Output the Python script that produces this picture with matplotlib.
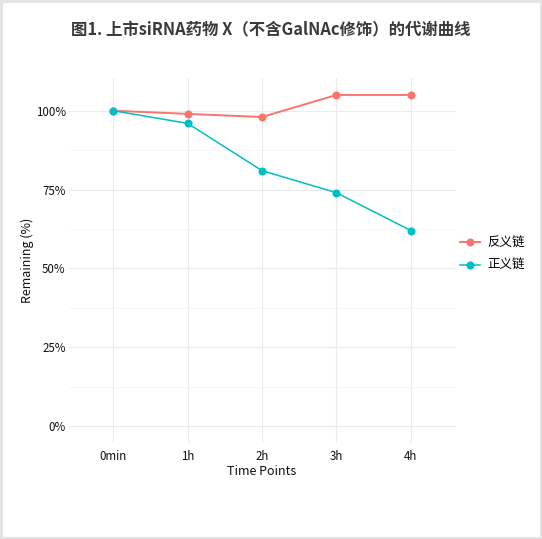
import matplotlib
matplotlib.use("Agg")
import matplotlib.pyplot as plt
from matplotlib.patches import Rectangle
from matplotlib.lines import Line2D
from matplotlib.ticker import FixedLocator

plt.rcParams['font.family'] = ['Noto Sans CJK SC', 'DejaVu Sans']

time_points = ["0min", "1h", "2h", "3h", "4h"]
antisense = [100, 99, 98, 105, 105]
sense = [100, 96, 81, 74, 62]
series_names = ["反义链", "正义链"]
colors = ["#F8766D", "#00BFC4"]
y_ticks = [0, 25, 50, 75, 100]
y_labels = ["0%", "25%", "50%", "75%", "100%"]
title = "图1. 上市siRNA药物 X（不含GalNAc修饰）的代谢曲线"

W, H = 542, 539
fig = plt.figure(figsize=(W / 100, H / 100), dpi=100)
fig.patch.set_facecolor("white")

# outer border
fig.patches.append(Rectangle((1 / W, 1 / H), 1 - 2 / W, 1 - 2 / H, transform=fig.transFigure,
                             fill=False, edgecolor="#e3e3e3", linewidth=2.2, zorder=10))

left, right = 68.5 / W, 455.5 / W
top, bottom = 1 - 78.4 / H, 1 - 442.6 / H
ax = fig.add_axes([left, bottom, right - left, top - bottom])
ax.set_facecolor("white")
for s in ax.spines.values():
    s.set_visible(False)

x = list(range(len(time_points)))
widths = [1.4, 1.1]
for vals, c, name, lw in zip([antisense, sense], colors, series_names, widths):
    ax.plot(x, vals, color=c, linewidth=lw, marker="o", markersize=5.8,
            markeredgewidth=0, label=name, zorder=3)

ax.set_xlim(-0.6, len(time_points) - 1 + 0.6)
ax.set_ylim(-5.25, 110.25)
ax.set_xticks(x)
ax.set_xticklabels(time_points)
ax.set_yticks(y_ticks)
ax.set_yticklabels(y_labels)
ax.yaxis.set_minor_locator(FixedLocator([12.5, 37.5, 62.5, 87.5]))
ax.grid(True, which="major", color="#ebebeb", linewidth=0.8, zorder=0)
ax.grid(True, which="minor", axis="y", color="#f3f3f3", linewidth=0.5, zorder=0)
ax.set_axisbelow(True)
ax.tick_params(axis="both", which="both", length=0, labelsize=8.3, labelcolor="#111111")
ax.tick_params(axis="x", pad=5)
ax.tick_params(axis="y", pad=2)

ax.set_xlabel("Time Points", fontsize=9, color="#111111", labelpad=1.5)
ax.set_ylabel("Remaining (%)", fontsize=9, color="#111111", labelpad=1)

fig.text(0.5, 1 - 29 / H, title, ha="center", va="center", fontsize=11.8,
         color="#3a3a3a", fontweight="bold")

handles = [Line2D([0], [0], color=c, linewidth=lw, marker="o", markersize=5.8,
                  markeredgewidth=0) for c, lw in zip(colors, widths)]
fig.legend(handles, series_names, loc="center left", bbox_to_anchor=(455 / W, 1 - 254.5 / H),
           frameon=False, fontsize=9, handlelength=1.6, handletextpad=0.6,
           labelspacing=0.75, borderaxespad=0)

fig.savefig("out.png", dpi=100, facecolor="white")
